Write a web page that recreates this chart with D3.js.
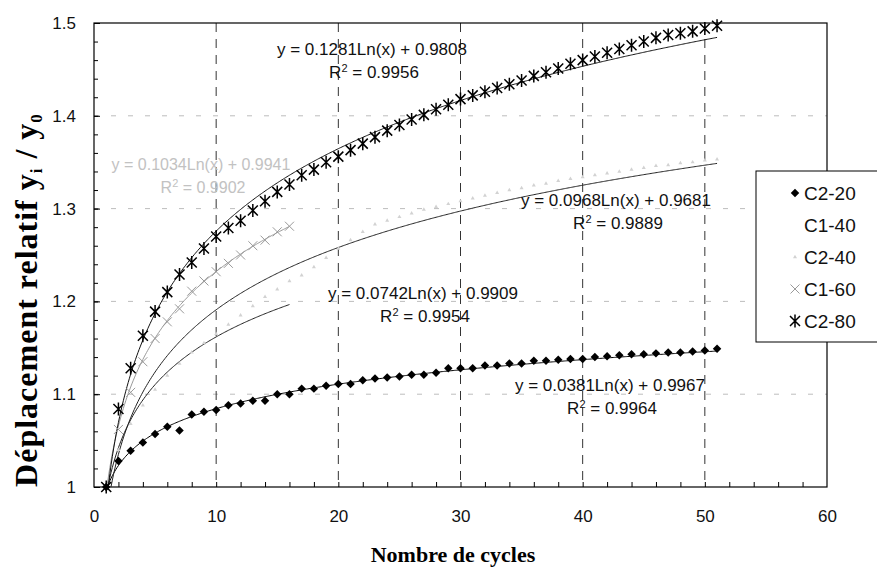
<!DOCTYPE html>
<html>
<head>
<meta charset="utf-8">
<script src="https://cdn.jsdelivr.net/npm/d3@7"></script>
<style>
  body { margin: 0; background: #fff; }
  svg { display: block; }
</style>
</head>
<body>
<svg id="chart"></svg>
<script>
// Data
const cycles = [1,2,3,4,5,6,7,8,9,10,11,12,13,14,15,16,17,18,19,20,21,22,23,24,25,26,27,28,29,30,
                31,32,33,34,35,36,37,38,39,40,41,42,43,44,45,46,47,48,49,50,51];

const c2_20 = [1.000,1.028,1.039,1.048,1.057,1.065,1.061,1.078,1.081,1.083,1.088,1.090,1.093,1.093,1.100,1.100,
               1.106,1.106,1.109,1.111,1.111,1.115,1.117,1.118,1.119,1.121,1.121,1.123,1.128,1.128,1.128,1.131,
               1.131,1.133,1.133,1.136,1.136,1.137,1.138,1.138,1.140,1.141,1.142,1.143,1.143,1.144,1.145,1.145,
               1.146,1.147,1.149];

const c2_40 = [1.000,1.040,1.068,1.088,1.105,1.120,1.133,1.145,1.155,1.165,1.175,1.185,1.195,1.205,1.213,1.222,
               1.228,1.237,1.247,1.257,1.266,1.275,1.283,1.287,1.291,1.295,1.299,1.302,1.305,1.308,1.311,1.314,
               1.317,1.320,1.322,1.325,1.327,1.330,1.332,1.334,1.336,1.338,1.340,1.342,1.344,1.346,1.347,1.349,
               1.350,1.352,1.353];

const c1_60 = [1.000,1.062,1.102,1.135,1.160,1.178,1.192,1.211,1.222,1.232,1.241,1.250,1.260,1.266,1.275,1.281];

const c2_80 = [1.000,1.084,1.128,1.163,1.189,1.210,1.229,1.242,1.257,1.270,1.279,1.287,1.298,1.308,1.318,1.326,
               1.336,1.342,1.350,1.356,1.363,1.370,1.377,1.384,1.390,1.396,1.401,1.407,1.412,1.418,1.422,1.426,
               1.430,1.434,1.438,1.443,1.447,1.451,1.456,1.460,1.464,1.468,1.472,1.476,1.480,1.484,1.487,1.489,
               1.491,1.494,1.497];

// log trendlines y = a Ln(x) + b, as printed on the chart
const seriesNames = ["C2-20", "C1-40", "C2-40", "C1-60", "C2-80"];
const trendA = [0.0381, 0.0742, 0.0968, 0.1034, 0.1281];
const trendB = [0.9967, 0.9909, 0.9681, 0.9941, 0.9808];
const trendR2 = ["0.9964", "0.9954", "0.9889", "0.9902", "0.9956"];
const trendMaxX = [51, 16, 51, 16, 51];

const xTicks = [0, 10, 20, 30, 40, 50, 60];
const yTicks = [1, 1.1, 1.2, 1.3, 1.4, 1.5];

// Layout
const W = 877, H = 569;
const margin = { top: 23, left: 94 };
const width = 733, height = 464;

const svg = d3.select("#chart").attr("width", W).attr("height", H);
const g = svg.append("g").attr("transform", `translate(${margin.left},${margin.top})`);

const x = d3.scaleLinear().domain([0, 60]).range([0, width]);
const y = d3.scaleLinear().domain([1, 1.5]).range([height, 0]);

const sans = "'Liberation Sans', Arial, sans-serif";
const serif = "'Liberation Serif', 'Times New Roman', serif";

svg.append("defs").append("clipPath").attr("id", "plotclip")
    .append("rect").attr("width", width).attr("height", height);

// gridlines
g.append("g").selectAll("line").data(yTicks.slice(1, -1)).join("line")
    .attr("x1", 0).attr("x2", width)
    .attr("y1", d => y(d)).attr("y2", d => y(d))
    .attr("stroke", "#bdbdbd").attr("stroke-width", 1)
    .attr("stroke-dasharray", "5,12");

g.append("g").selectAll("line").data(xTicks.slice(1, -1)).join("line")
    .attr("x1", d => x(d)).attr("x2", d => x(d))
    .attr("y1", 0).attr("y2", height)
    .attr("stroke", "#333").attr("stroke-width", 1)
    .attr("stroke-dasharray", "9,7");

// frame
g.append("rect").attr("width", width).attr("height", height)
    .attr("fill", "none").attr("stroke", "#000").attr("stroke-width", 1.2);

// axes
const yAxis = g.append("g")
    .call(d3.axisLeft(y).tickValues(yTicks).tickSize(-6).tickPadding(18).tickFormat(d => String(d)));
yAxis.select(".domain").remove();
yAxis.selectAll("text").style("font-family", sans).style("font-size", "17px").attr("fill", "#111");

const yMinor = g.append("g")
    .call(d3.axisLeft(y).tickValues(d3.range(1.02, 1.5, 0.02)).tickSize(-4).tickFormat(""));
yMinor.select(".domain").remove();

const xAxis = g.append("g").attr("transform", `translate(0,${height})`)
    .call(d3.axisBottom(x).tickValues(xTicks).tickSize(0).tickPadding(23).tickFormat(d => String(d)));
xAxis.select(".domain").remove();
xAxis.selectAll("text").style("font-family", sans).style("font-size", "17px").attr("fill", "#111");

const xMinor = g.append("g").attr("transform", `translate(0,${height})`)
    .call(d3.axisBottom(x).tickValues(d3.range(2, 60, 2)).tickSize(-5).tickFormat(""));
xMinor.select(".domain").remove();

// axis titles
svg.append("text")
    .attr("x", 453).attr("y", 562)
    .attr("text-anchor", "middle")
    .style("font-family", serif).style("font-size", "22px").style("font-weight", "bold")
    .text("Nombre de cycles");

const yTitle = svg.append("text")
    .attr("transform", "translate(37,300) rotate(-90)")
    .attr("text-anchor", "middle")
    .style("font-family", serif).style("font-size", "32px").style("font-weight", "bold")
    .style("letter-spacing", "1px");
yTitle.append("tspan").text("Déplacement relatif y");
yTitle.append("tspan").attr("font-size", "17px").attr("dy", 5).text("i");
yTitle.append("tspan").attr("dy", -5).text(" / y");
yTitle.append("tspan").attr("font-size", "17px").attr("dy", 5).text("0");

// trendlines
const plot = g.append("g").attr("clip-path", "url(#plotclip)");
const trendColors = ["#000", "#222", "#222", "#9a9a9a", "#111"];
seriesNames.forEach((name, i) => {
    const pts = d3.range(1, trendMaxX[i] + 0.001, 0.1).map(v => [v, trendA[i] * Math.log(v) + trendB[i]]);
    plot.append("path")
        .datum(pts)
        .attr("fill", "none")
        .attr("stroke", trendColors[i])
        .attr("stroke-width", 1)
        .attr("d", d3.line().x(d => x(d[0])).y(d => y(d[1])));
});

// markers
const diamond = d3.symbol().type(d3.symbolSquare).size(36)();
const tri = d3.symbol().type(d3.symbolTriangle).size(7)();
const cross = "M-4.5,-4.5L4.5,4.5M-4.5,4.5L4.5,-4.5";
const star = "M-5,-5L5,5M-5,5L5,-5M0,-6.5L0,6.5";

function drawMarkers(values, draw) {
    const grp = g.append("g");
    grp.selectAll("path").data(values).join("path")
        .attr("transform", (d, i) => `translate(${x(cycles[i])},${y(d)})`)
        .call(draw);
}

drawMarkers(c2_40, s => s.attr("d", tri).attr("fill", "#d2d2d2"));
drawMarkers(c1_60, s => s.attr("d", cross).attr("fill", "none").attr("stroke", "#9a9a9a").attr("stroke-width", 1));
drawMarkers(c2_20, s => s.attr("d", diamond).attr("fill", "#000")
    .attr("transform", (d, i) => `translate(${x(cycles[i])},${y(d)}) rotate(45)`));
drawMarkers(c2_80, s => s.attr("d", star).attr("fill", "none").attr("stroke", "#000").attr("stroke-width", 1.5));

// trendline equations
const eqPos = [[610, 385], [423, 293], [616, 200], [201, 164], [372, 49]];
const eqColor = ["#111", "#111", "#111", "#c2c2c2", "#111"];
seriesNames.forEach((name, i) => {
    const [ex, ey] = eqPos[i];
    const fs = i === 3 ? 16 : 17;
    svg.append("text")
        .attr("x", ex).attr("y", ey).attr("dy", "0.35em")
        .attr("text-anchor", "middle")
        .style("font-family", sans).style("font-size", fs + "px").attr("fill", eqColor[i])
        .text(`y = ${trendA[i]}Ln(x) + ${trendB[i]}`);
    const r = svg.append("text")
        .attr("x", ex + 2).attr("y", ey + 23).attr("dy", "0.35em")
        .attr("text-anchor", "middle")
        .style("font-family", sans).style("font-size", fs + "px").attr("fill", eqColor[i]);
    r.append("tspan").text("R");
    r.append("tspan").attr("font-size", "11px").attr("dy", -6).text("2");
    r.append("tspan").attr("dy", 6).text(` = ${trendR2[i]}`);
});

// legend (runs off the right edge, as in the scan)
const legend = svg.append("g");
legend.append("rect")
    .attr("x", 756).attr("y", 171).attr("width", 130).attr("height", 171)
    .attr("fill", "#fff").attr("stroke", "#000").attr("stroke-width", 1);

const legendMarks = [
    s => s.attr("d", diamond).attr("fill", "#000").attr("transform", "rotate(45)"),
    s => s.attr("d", "").attr("fill", "none"),
    s => s.attr("d", tri).attr("fill", "#d2d2d2"),
    s => s.attr("d", cross).attr("fill", "none").attr("stroke", "#9a9a9a"),
    s => s.attr("d", star).attr("fill", "none").attr("stroke", "#000").attr("stroke-width", 1.5)
];
seriesNames.forEach((name, i) => {
    const item = legend.append("g").attr("transform", `translate(795,${193 + i * 32})`);
    item.append("g").append("path").call(legendMarks[i]);
    item.append("text")
        .attr("x", 9).attr("dy", "0.35em")
        .style("font-family", sans).style("font-size", "19px").attr("fill", "#111")
        .text(name);
});
</script>
</body>
</html>
